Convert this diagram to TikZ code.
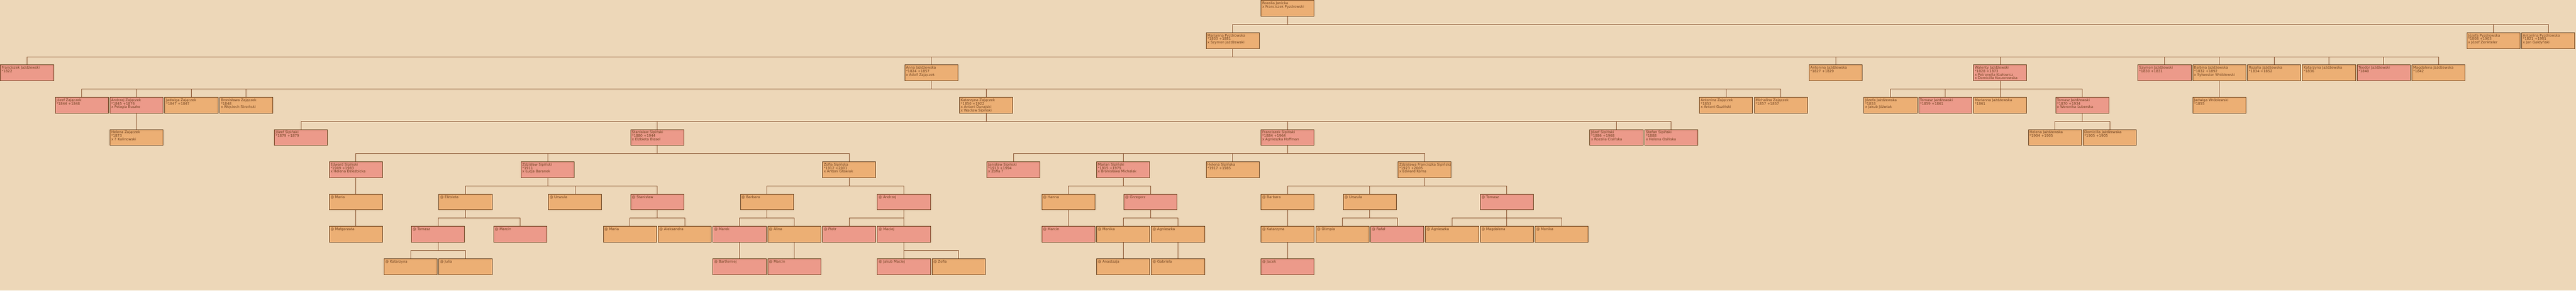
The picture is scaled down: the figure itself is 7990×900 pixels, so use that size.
\documentclass[tikz,border=0pt]{standalone}
\usepackage{fontspec}
\setmainfont{DejaVu Sans}
\definecolor{bgcol}{HTML}{EDD7B8}
\definecolor{femcol}{HTML}{ECAF74}
\definecolor{malcol}{HTML}{EC9A8A}
\definecolor{bordercol}{HTML}{5C3310}
\definecolor{linecol}{HTML}{7D4522}
\definecolor{textcol}{HTML}{6B3F1E}
\newcommand\fsz{\fontsize{10.8}{10.7}\selectfont\lineskiplimit=-20pt\lineskip=0pt}
\tikzset{
  pbox/.style={draw=bordercol, line width=1pt, minimum width=165pt, minimum height=49pt, inner sep=0pt, anchor=north west},
  fem/.style={pbox, fill=femcol},
  mal/.style={pbox, fill=malcol},
  txt/.style={anchor=north west, inner sep=0pt, align=left, font=\fsz, text=textcol},
  conn/.style={draw=linecol, line width=1pt}
}
\newcommand\pers[5]{%
  \node[#4] (#1) at ({85*#2+0.5},{-100*#3-0.5}) {};
  \node[txt] (#1t) at ([xshift=4.5pt,yshift=-2.5pt]#1.north west) {\rule{0pt}{10.5pt}#5};
}
\newcommand\kid[2]{\draw[conn] (#1.south) -- ++(0,-25) -| (#2.north);}
\begin{document}
\begin{tikzpicture}[x=1pt,y=1pt]
\useasboundingbox (0,0) rectangle (7990,-900);
\fill[bgcol] (0,0) rectangle (7990,-900);
% row 0
\pers{r0}{46}{0}{fem}{Rozalia Janicka\\x Franciszek Pyzdrowski}
% row 1
\pers{mp}{44}{1}{fem}{Marianna Pyzdrowska\\*1803 +1881\\x Szymon Jażdżewski}
\pers{jp}{90}{1}{fem}{Józefa Pyzdrowska\\*1808 +1903\\x Józef Zenkteler}
\pers{ap}{92}{1}{fem}{Antonina Pyzdrowska\\*1821 +1901\\x Jan Gałdyński}
% row 2
\pers{fj}{0}{2}{mal}{Franciszek Jażdżewski\\*1822}
\pers{aj}{33}{2}{fem}{Anna Jażdżewska\\*1824 +1857\\x Adolf Zajączek}
\pers{anj}{66}{2}{fem}{Antonina Jażdżewska\\*1827 +1829}
\pers{wj}{72}{2}{mal}{Walenty Jażdżewski\\*1828 +1873\\x Petronella Kozłowicz\\x Domicilla Koczorowska}
\pers{sj}{78}{2}{mal}{Szymon Jażdżewski\\*1830 +1831}
\pers{bj}{80}{2}{fem}{Balbina Jażdżewska\\*1832 +1892\\x Sylwester Wróblewski}
\pers{rj}{82}{2}{fem}{Rozalia Jażdżewska\\*1834 +1852}
\pers{kj}{84}{2}{fem}{Katarzyna Jażdżewska\\*1836}
\pers{tj}{86}{2}{mal}{Teodor Jażdżewski\\*1840}
\pers{mj}{88}{2}{fem}{Magdalena Jażdżewska\\*1842}
% row 3
\pers{jz}{2}{3}{mal}{Józef Zajączek\\*1844 +1848}
\pers{az}{4}{3}{mal}{Andrzej Zajączek\\*1845 +1876\\x Pelagia Buszke}
\pers{jdz}{6}{3}{fem}{Jadwiga Zajączek\\*1847 +1847}
\pers{bz}{8}{3}{fem}{Bronisława Zajączek\\*1848\\x Wojciech Stroiński}
\pers{kz}{35}{3}{fem}{Katarzyna Zajączek\\*1850 +1922\\x Antoni Dunajski\\x Wacław Sipiński}
\pers{anz}{62}{3}{fem}{Antonina Zajączek\\*1853\\x Antoni Guziński}
\pers{miz}{64}{3}{fem}{Michalina Zajączek\\*1857 +1857}
\pers{jfj}{68}{3}{fem}{Józefa Jażdżewska\\*1853\\x Jakub Jóźwiak}
\pers{tja}{70}{3}{mal}{Tomasz Jażdżewski\\*1859 +1861}
\pers{mnj}{72}{3}{fem}{Marianna Jażdżewska\\*1861}
\pers{tjb}{75}{3}{mal}{Tomasz Jażdżewski\\*1870 +1934\\x Weronika Luberska}
\pers{jw}{80}{3}{fem}{Jadwiga Wróblewski\\*1855}
% row 4
\pers{hz}{4}{4}{fem}{Helena Zajączek\\*1873\\x ? Kalinowski}
\pers{jsa}{10}{4}{mal}{Józef Sipiński\\*1879 +1879}
\pers{ss}{23}{4}{mal}{Stanisław Sipiński\\*1880 +1944\\x Elżbieta Blasel}
\pers{fs}{46}{4}{mal}{Franciszek Sipiński\\*1884 +1964\\x Agnieszka Hoffman}
\pers{jsb}{58}{4}{mal}{Józef Sipiński\\*1886 +1968\\x Rozalia Cisińska}
\pers{sts}{60}{4}{mal}{Stefan Sipiński\\*1888\\x Helena Osińska}
\pers{hj}{74}{4}{fem}{Helena Jażdżewska\\*1904 +1905}
\pers{dj}{76}{4}{fem}{Domicilla Jażdżewska\\*1905 +1905}
% row 5
\pers{es}{12}{5}{mal}{Edward Sipiński\\*1909 +1983\\x Helena Dzieżbicka}
\pers{zs}{19}{5}{mal}{Zdzisław Sipiński\\*1911\\x Łucja Baranek}
\pers{zos}{30}{5}{fem}{Zofia Sipińska\\*1912 +2001\\x Antoni Głowiak}
\pers{jas}{36}{5}{mal}{Janisław Sipiński\\*1913 +1994\\x Zofia ?}
\pers{ms}{40}{5}{mal}{Marian Sipiński\\*1915 +1979\\x Bronisława Michalak}
\pers{hs}{44}{5}{fem}{Helena Sipińska\\*1917 +1985}
\pers{zfs}{51}{5}{fem}{Zdzisława Franciszka Sipińska\\*1923 +2005\\x Edward Korna}
% row 6
\pers{aF}{12}{6}{fem}{@ Maria}
\pers{bF}{16}{6}{fem}{@ Elżbieta}
\pers{cF}{20}{6}{fem}{@ Urszula}
\pers{dF}{23}{6}{mal}{@ Stanisław}
\pers{eF}{27}{6}{fem}{@ Barbara}
\pers{fF}{32}{6}{mal}{@ Andrzej}
\pers{gF}{38}{6}{fem}{@ Hanna}
\pers{hF}{41}{6}{mal}{@ Grzegorz}
\pers{iF}{46}{6}{fem}{@ Barbara}
\pers{jF}{49}{6}{fem}{@ Urszula}
\pers{kF}{54}{6}{mal}{@ Tomasz}
% row 7
\pers{aS}{12}{7}{fem}{@ Małgorzata}
\pers{bS}{15}{7}{mal}{@ Tomasz}
\pers{cS}{18}{7}{mal}{@ Marcin}
\pers{dS}{22}{7}{fem}{@ Maria}
\pers{eS}{24}{7}{fem}{@ Aleksandra}
\pers{fS}{26}{7}{mal}{@ Marek}
\pers{gS}{28}{7}{fem}{@ Alina}
\pers{hS}{30}{7}{mal}{@ Piotr}
\pers{iS}{32}{7}{mal}{@ Maciej}
\pers{jS}{38}{7}{mal}{@ Marcin}
\pers{kS}{40}{7}{fem}{@ Monika}
\pers{lS}{42}{7}{fem}{@ Agnieszka}
\pers{mS}{46}{7}{fem}{@ Katarzyna}
\pers{nS}{48}{7}{fem}{@ Olimpia}
\pers{oS}{50}{7}{mal}{@ Rafał}
\pers{pS}{52}{7}{fem}{@ Agnieszka}
\pers{qS}{54}{7}{fem}{@ Magdalena}
\pers{rS}{56}{7}{fem}{@ Monika}
% row 8
\pers{aE}{14}{8}{fem}{@ Katarzyna}
\pers{bE}{16}{8}{fem}{@ Julia}
\pers{cE}{26}{8}{mal}{@ Bartłomiej}
\pers{dE}{28}{8}{mal}{@ Marcin}
\pers{eE}{32}{8}{mal}{@ Jakub Maciej}
\pers{fE}{34}{8}{fem}{@ Zofia}
\pers{gE}{40}{8}{fem}{@ Anastazja}
\pers{hE}{42}{8}{fem}{@ Gabriela}
\pers{iE}{46}{8}{mal}{@ Jacek}
% connectors
\kid{r0}{mp}\kid{r0}{jp}\kid{r0}{ap}
\kid{mp}{fj}\kid{mp}{aj}\kid{mp}{anj}\kid{mp}{wj}\kid{mp}{sj}
\kid{mp}{bj}\kid{mp}{rj}\kid{mp}{kj}\kid{mp}{tj}\kid{mp}{mj}
\kid{aj}{jz}\kid{aj}{az}\kid{aj}{jdz}\kid{aj}{bz}\kid{aj}{kz}\kid{aj}{anz}\kid{aj}{miz}
\kid{wj}{jfj}\kid{wj}{tja}\kid{wj}{mnj}\kid{wj}{tjb}
\kid{bj}{jw}
\kid{az}{hz}
\kid{kz}{jsa}\kid{kz}{ss}\kid{kz}{fs}\kid{kz}{jsb}\kid{kz}{sts}
\kid{tjb}{hj}\kid{tjb}{dj}
\kid{ss}{es}\kid{ss}{zs}\kid{ss}{zos}
\kid{fs}{jas}\kid{fs}{ms}\kid{fs}{hs}\kid{fs}{zfs}
\kid{es}{aF}
\kid{zs}{bF}\kid{zs}{cF}\kid{zs}{dF}
\kid{zos}{eF}\kid{zos}{fF}
\kid{ms}{gF}\kid{ms}{hF}
\kid{zfs}{iF}\kid{zfs}{jF}\kid{zfs}{kF}
\kid{aF}{aS}
\kid{bF}{bS}\kid{bF}{cS}
\kid{dF}{dS}\kid{dF}{eS}
\kid{eF}{fS}\kid{eF}{gS}
\kid{fF}{hS}\kid{fF}{iS}
\kid{gF}{jS}
\kid{hF}{kS}\kid{hF}{lS}
\kid{iF}{mS}
\kid{jF}{nS}\kid{jF}{oS}
\kid{kF}{pS}\kid{kF}{qS}\kid{kF}{rS}
\kid{bS}{aE}\kid{bS}{bE}
\kid{fS}{cE}
\kid{gS}{dE}
\kid{iS}{eE}\kid{iS}{fE}
\kid{kS}{gE}
\kid{lS}{hE}
\kid{mS}{iE}
\end{tikzpicture}
\end{document}
